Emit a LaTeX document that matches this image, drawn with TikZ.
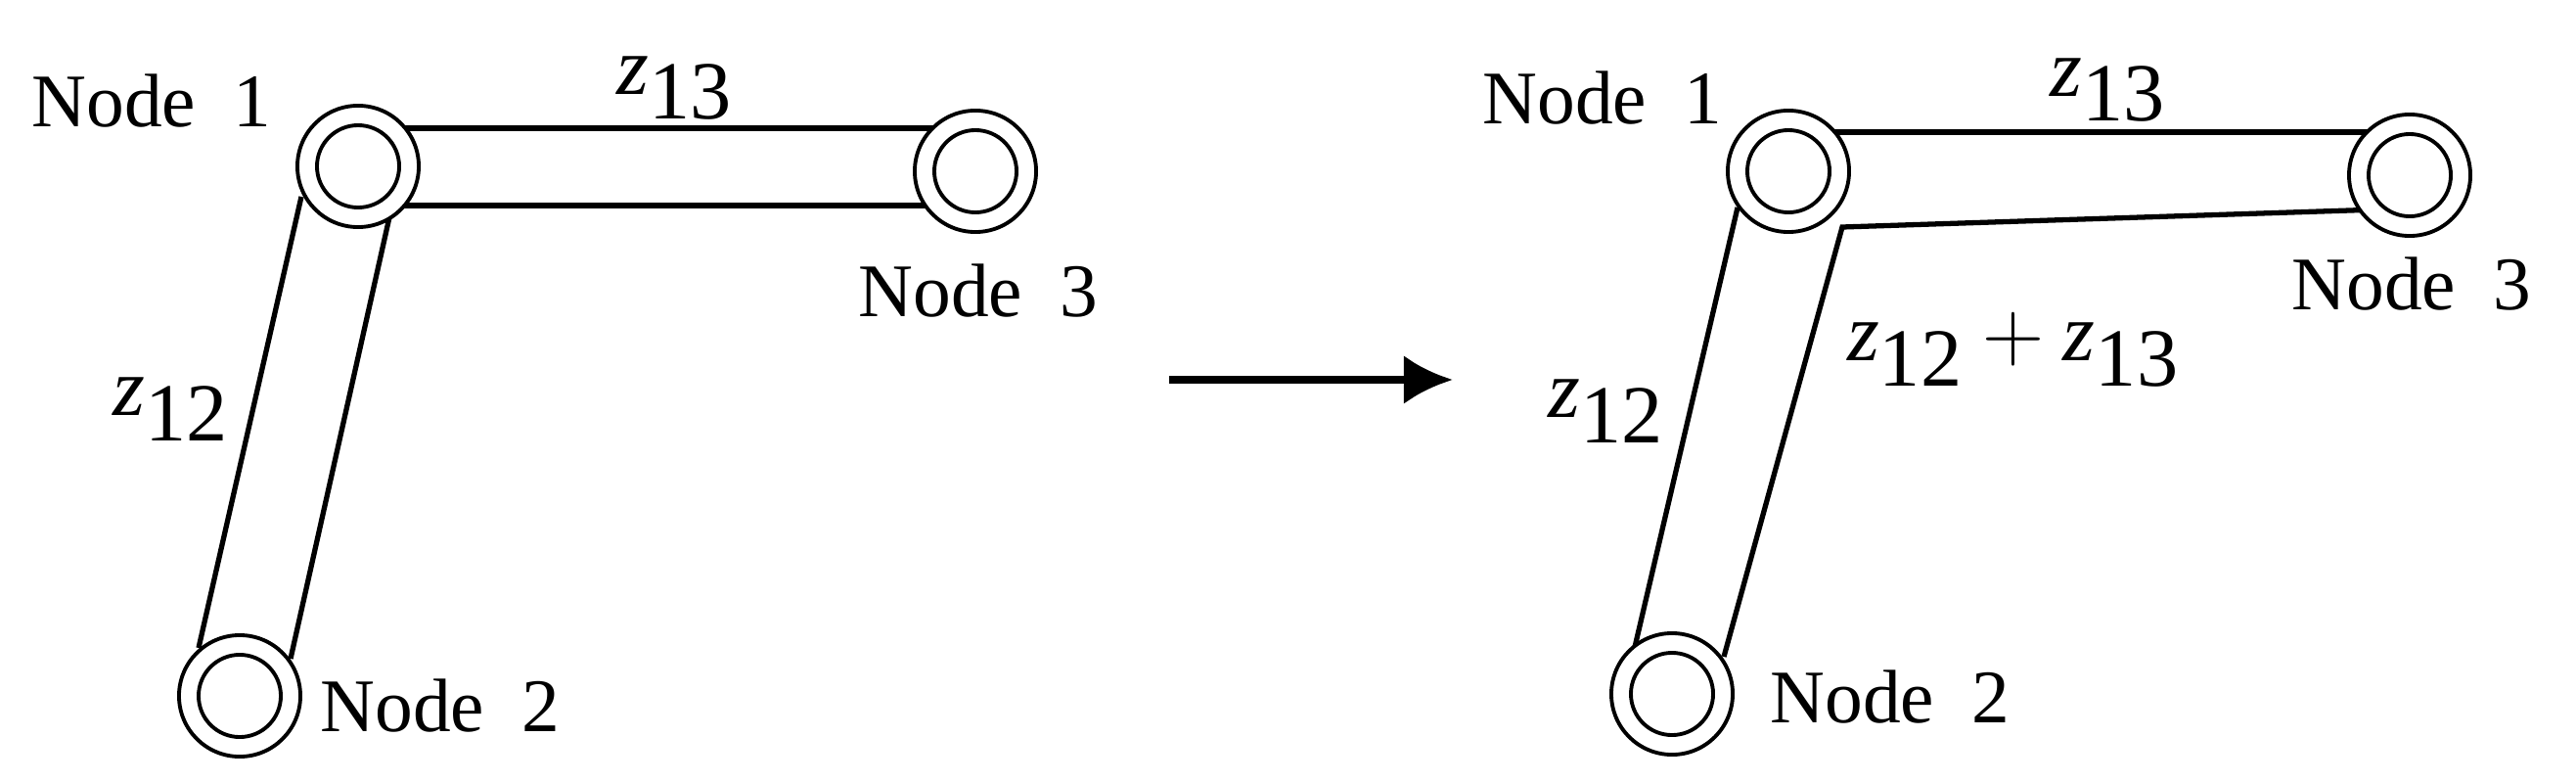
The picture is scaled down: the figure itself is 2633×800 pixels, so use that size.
\documentclass[tikz,border=0pt]{standalone}
\usepackage{fontspec}
\setmainfont{Liberation Serif}
\usetikzlibrary{arrows.meta}
\begin{document}
\begin{tikzpicture}[x=0.01cm,y=-0.01cm,
  bus/.style={circle,draw,line width=1.1pt,minimum size=1.24cm,inner sep=0pt,fill=white,
    path picture={\draw[line width=1.1pt] (path picture bounding box.center) circle (0.42cm);}},
  band/.style={line width=1.5pt},
  lbl/.style={font=\fontsize{22}{24}\selectfont,inner sep=0pt},
  zl/.style={font=\fontsize{24}{26}\selectfont,inner sep=0pt}]
\useasboundingbox (0,0) rectangle (2633,800);
% left panel
\coordinate (a1) at (363,131); \coordinate (a2) at (997,131);
\coordinate (b1) at (363,210); \coordinate (b2) at (997,210);
\coordinate (c1) at (308,201); \coordinate (c2) at (203,662);
\coordinate (d1) at (398,222); \coordinate (d2) at (297,673);
\draw[band] (a1) -- (a2); \draw[band] (b1) -- (b2);
\draw[band] (c1) -- (c2); \draw[band] (d1) -- (d2);
\node[bus] (L1) at (366,170) {};
\node[bus] (L3) at (997,175) {};
\node[bus] (L2) at (245,711) {};
\node[lbl] (tL1) at (155,103) {Node\ \ 1};
\node[lbl] (tL3) at (1000,297) {Node\ \ 3};
\node[lbl] (tL2) at (450,721) {Node\ \ 2};
\node[zl] (zL13) at (690,90) {$\textit{z}_{\textrm{13}}$};
\node[zl] (zL12) at (175,418) {$\textit{z}_{\textrm{12}}$};
% arrow
\coordinate (ar1) at (1195,388); \coordinate (ar2) at (1485,388);
\draw[line width=2.2pt,-{Latex[length=0.5cm,width=0.5cm]}] (ar1) -- (ar2);
% right panel
\coordinate (e1) at (1828,135); \coordinate (e2) at (2463,135);
\coordinate (f1) at (2463,213); \coordinate (f2) at (1883,232); \coordinate (f3) at (1762,671);
\coordinate (g1) at (1776,212); \coordinate (g2) at (1671,661);
\draw[band] (e1) -- (e2);
\draw[band] (f1) -- (f2) -- (f3);
\draw[band] (g1) -- (g2);
\node[bus] (R1) at (1828,175) {};
\node[bus] (R3) at (2463,179) {};
\node[bus] (R2) at (1709,709) {};
\node[lbl] (tR1) at (1638,100) {Node\ \ 1};
\node[lbl] (tR3) at (2465,290) {Node\ \ 3};
\node[lbl] (tR2) at (1932,712) {Node\ \ 2};
\node[zl] (zR13) at (2155,92) {$\textit{z}_{\textrm{13}}$};
\node[zl] (zR12) at (1642,420) {$\textit{z}_{\textrm{12}}$};
\node[zl] (zR) at (2058,357) {$\textit{z}_{\textrm{12}}+\textit{z}_{\textrm{13}}$};
\end{tikzpicture}
\end{document}
